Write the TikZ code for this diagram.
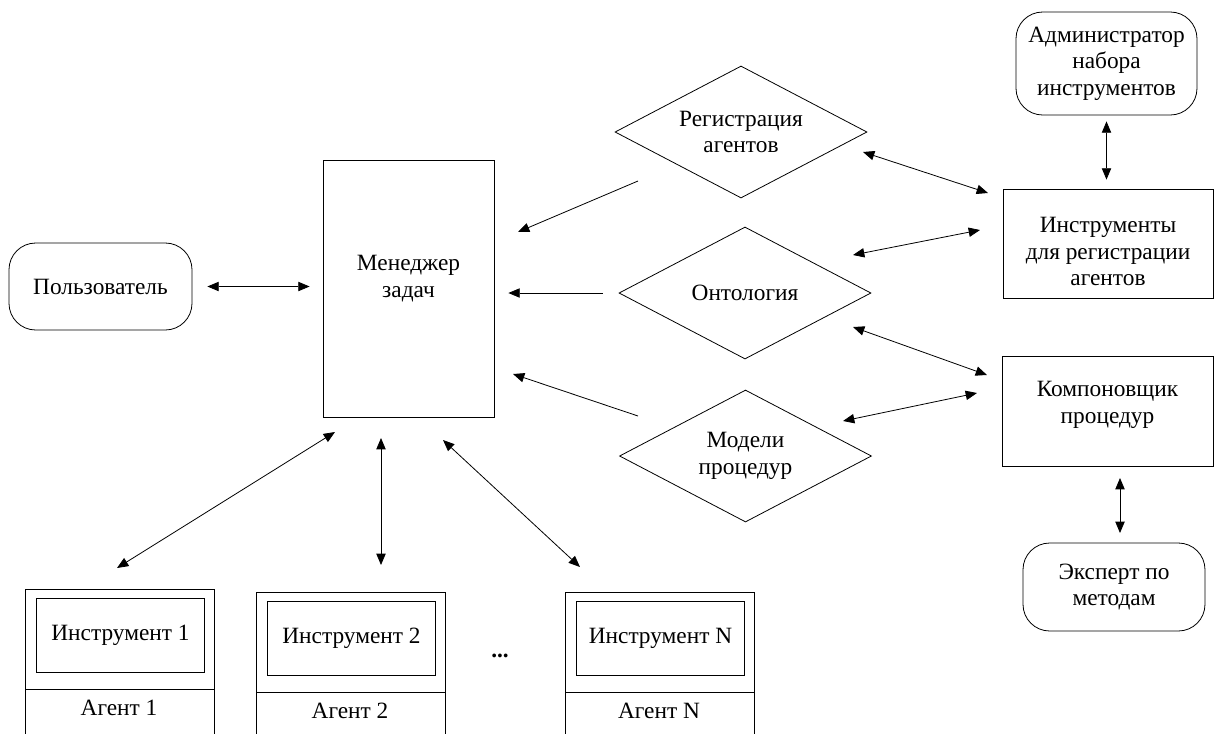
\documentclass[tikz,border=0pt]{standalone}
\usepackage{fontspec}
\setmainfont{Liberation Serif}
\usetikzlibrary{shapes.geometric,arrows.meta}

\begin{document}
\begin{tikzpicture}[x=0.75pt,y=-0.75pt,
		font=\fontsize{17.5}{20}\selectfont,
		line width=0.6pt,
		>={Triangle[length=8.5pt,width=7pt]},
		box/.style={draw,rectangle,align=center,inner sep=2pt},
		roundbox/.style={box,rounded corners=20pt},
		rhomb/.style={draw,diamond,aspect=1.9,inner sep=0pt,align=center,minimum width=189pt,minimum height=99pt}]
		
		\useasboundingbox (0,0) rectangle (1215,733);
		
		% User and task manager
		\node[roundbox,minimum width=137.25pt,minimum height=65.25pt] (user) at (100.5,286.5) {Пользователь};
		\node[box,minimum width=128.25pt,minimum height=192.75pt,
			label={[align=center,yshift=7.5pt]center:Менеджер\\задач}] (mgr) at (408.5,288.5) {};
		
		% Diamonds
		\node[rhomb] (reg) at (741,132) {Регистрация\\агентов};
		\node[rhomb] (onto) at (745,293) {Онтология};
		\node[rhomb] (models) at (745.5,456) {Модели\\процедур};
		
		% Right column
		\node[roundbox,minimum width=135.75pt,minimum height=77.25pt] (admin) at (1106.5,63.5) {Администратор\\набора\\инструментов};
		\node[box,minimum width=157.5pt,minimum height=81.75pt,
			label={[align=center,yshift=-6pt]center:Инструменты\\для регистрации\\агентов}] (tools) at (1108,243.5) {};
		\node[box,minimum width=158.25pt,minimum height=82.5pt,
			label={[align=center,yshift=4.5pt]center:Компоновщик\\процедур}] (komp) at (1107.5,411) {};
		\node[roundbox,minimum width=136.5pt,minimum height=66pt] (expert) at (1114,587) {Эксперт по\\методам};
		
		% Agents with their tools
		\foreach \n/\x/\y in {1/25/589, 2/256/592, N/565/592}
		{
			\draw (\x,740) -- (\x,\y) -- (\x+189,\y) -- (\x+189,740);
			\draw (\x,\y+100) -- (\x+189,\y+100);
			\node[box,minimum width=126pt,minimum height=55.5pt] (tool\n) at (\x+95.5,\y+46.5) {Инструмент \n};
			\node (agent\n) at (\x+94,\y+119) {Агент \n};
		}
		\node (dots) at (500,656) {\textbf{...}};
		
		% Arrow ends
		\coordinate (r1) at (638,181);
		\coordinate (r2) at (518,232);
		\coordinate (r3) at (863,152);
		\coordinate (r4) at (988,193);
		\coordinate (o1) at (853,255);
		\coordinate (o2) at (980,230);
		\coordinate (o3) at (853,327);
		\coordinate (o4) at (987,375);
		\coordinate (m1) at (638,416);
		\coordinate (m2) at (513,374);
		\coordinate (m3) at (843,421);
		\coordinate (m4) at (977,393);
		\coordinate (k1) at (1120,478);
		\coordinate (k2) at (1120,533);
		\coordinate (a1) at (335,432);
		\coordinate (a2) at (117,568);
		\coordinate (b1) at (381,438);
		\coordinate (b2) at (381,565);
		\coordinate (c1) at (443,440);
		\coordinate (c2) at (580,567);
		
		% Connections
		\draw[<->,shorten <=11.25pt,shorten >=9.75pt] (user.east) -- (user.east -| mgr.west);
		\draw[->] (r1) -- (r2);
		\draw[<->] (r3) -- (r4);
		\draw[->,shorten <=12pt,shorten >=10.5pt] (onto.west) -- (onto.west -| mgr.east);
		\draw[<->] (o1) -- (o2);
		\draw[<->] (o3) -- (o4);
		\draw[->] (m1) -- (m2);
		\draw[<->] (m3) -- (m4);
		\draw[<->,shorten <=4.5pt,shorten >=6.75pt] (admin.south) -- (admin.south |- tools.north);
		\draw[<->] (k1) -- (k2);
		\draw[<->] (a1) -- (a2);
		\draw[<->] (b1) -- (b2);
		\draw[<->] (c1) -- (c2);
		
	\end{tikzpicture}
\end{document}
